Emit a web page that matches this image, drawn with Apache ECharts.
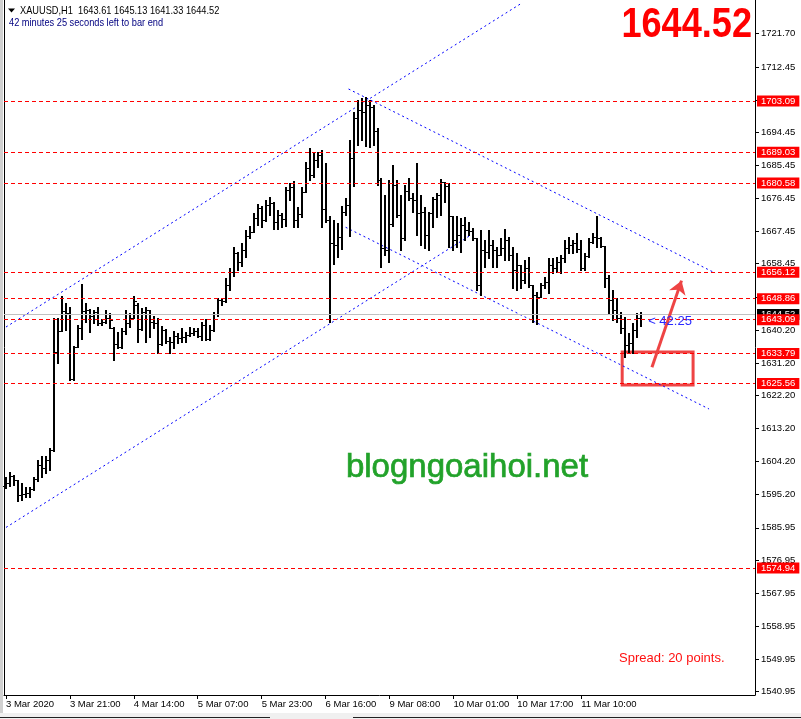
<!DOCTYPE html>
<html>
<head>
<meta charset="utf-8">
<script src="https://cdn.jsdelivr.net/npm/echarts@6/dist/echarts.min.js"></script>
<style>html,body{margin:0;padding:0;background:#fff;}#c{width:801px;height:719px;}</style>
</head>
<body>
<div id="c"></div>
<script>
// ---------- data ----------
const symbolName = 'XAUUSD,H1';
const xTickLabels = ['3 Mar 2020','3 Mar 21:00','4 Mar 14:00','5 Mar 07:00','5 Mar 23:00','6 Mar 16:00','9 Mar 08:00','10 Mar 01:00','10 Mar 17:00','11 Mar 10:00'];
const yTickValues = [1721.70,1712.45,1703.45,1694.45,1685.45,1676.45,1667.45,1658.45,1649.20,1640.20,1631.20,1622.20,1613.20,1604.20,1595.20,1585.95,1576.95,1567.95,1558.95,1549.95,1540.95];
const redLevels = [1703.09,1689.03,1680.58,1656.12,1648.86,1643.09,1633.79,1625.56,1574.94];
const currentPrice = 1644.52;

const opens = [1597.43,1598.26,1600.18,1599.08,1594.96,1595.24,1595.51,1596.61,1599.35,1603.20,
1602.37,1604.57,1607.31,1634.22,1639.98,1645.47,1644.92,1626.80,1635.59,1640.80,
1645.47,1645.74,1644.10,1645.20,1642.18,1642.45,1643.55,1640.80,1636.41,1635.59,
1639.98,1642.18,1643.55,1647.12,1640.53,1645.20,1645.74,1642.45,1642.18,1636.41,
1640.25,1637.24,1636.96,1638.61,1638.06,1638.33,1638.88,1639.43,1639.98,1638.61,
1641.63,1637.78,1640.25,1644.65,1648.49,1648.22,1652.61,1656.18,1661.39,1658.92,
1662.21,1666.06,1667.16,1671.00,1673.74,1670.45,1674.57,1675.12,1669.90,1671.82,
1670.72,1678.69,1679.52,1670.45,1672.10,1678.15,1684.73,1682.81,1686.93,1688.30,
1673.47,1670.45,1664.14,1663.59,1665.78,1672.65,1674.57,1687.48,1698.46,1700.65,
1700.11,1702.03,1701.48,1694.89,1681.44,1662.76,1662.21,1669.35,1680.07,1671.82,
1665.51,1678.42,1676.49,1675.94,1672.37,1672.65,1666.33,1672.37,1676.22,1677.32,
1680.89,1679.79,1671.55,1664.96,1666.33,1669.08,1667.70,1667.43,1665.51,1652.61,
1662.21,1661.67,1663.59,1662.21,1660.84,1662.76,1664.96,1660.84,1656.72,1658.10,
1653.98,1657.27,1652.61,1649.86,1649.31,1652.61,1653.43,1658.10,1657.27,1658.92,
1660.02,1662.76,1663.59,1664.14,1662.49,1657.27,1660.57,1664.41,1665.78,1665.51,
1663.31,1654.53,1648.49,1645.74,1643.55,1640.80,1636.14,1636.69,1640.25,1643.61];
const highs = [1599.90,1601.28,1600.45,1599.08,1598.26,1597.16,1597.16,1599.90,1604.57,1605.67,
1605.67,1607.86,1643.55,1643.55,1649.59,1647.67,1646.57,1635.86,1641.63,1652.88,
1647.67,1646.02,1645.74,1646.57,1643.27,1645.74,1644.92,1641.08,1639.71,1640.80,
1645.74,1644.92,1649.59,1647.67,1646.29,1646.57,1645.74,1644.10,1643.55,1641.35,
1640.53,1638.33,1639.98,1639.43,1640.80,1639.71,1641.08,1640.80,1640.80,1642.45,
1643.27,1641.63,1645.20,1649.04,1649.04,1654.53,1657.27,1663.04,1661.67,1664.14,
1667.70,1668.80,1672.37,1674.84,1674.29,1675.94,1676.76,1675.39,1673.19,1672.37,
1679.52,1680.62,1681.16,1674.02,1679.52,1686.38,1690.22,1688.85,1689.13,1689.67,
1686.11,1671.55,1670.45,1669.63,1674.29,1676.49,1692.42,1700.11,1703.40,1703.95,
1704.22,1703.40,1702.03,1695.71,1681.99,1677.32,1681.44,1685.56,1681.44,1677.32,
1680.07,1681.99,1677.87,1686.11,1677.32,1674.02,1672.65,1676.76,1677.87,1681.71,
1680.89,1680.62,1671.55,1671.55,1671.00,1671.27,1669.90,1668.25,1665.51,1667.70,
1664.96,1667.70,1664.96,1663.04,1665.51,1667.98,1665.78,1663.04,1661.39,1658.10,
1659.47,1660.29,1652.61,1650.69,1653.16,1654.80,1660.02,1660.02,1660.29,1660.84,
1664.96,1665.78,1664.96,1666.88,1664.96,1661.39,1665.51,1666.88,1671.55,1665.78,
1663.31,1655.35,1651.23,1649.04,1645.20,1643.82,1639.43,1642.18,1644.92,1645.13];
const lows = [1596.88,1597.43,1597.71,1593.31,1593.58,1594.41,1594.41,1596.33,1598.80,1599.90,
1601.00,1601.82,1607.04,1631.20,1639.98,1640.25,1626.53,1626.53,1635.59,1637.78,
1642.45,1639.71,1642.18,1641.63,1641.63,1642.18,1640.80,1632.02,1635.31,1635.31,
1639.16,1641.08,1643.55,1636.96,1640.25,1636.96,1638.33,1640.80,1633.94,1636.14,
1636.69,1633.94,1635.31,1636.69,1636.96,1636.96,1638.61,1638.88,1638.33,1637.51,
1637.51,1637.51,1639.98,1644.10,1647.12,1647.94,1651.23,1655.08,1656.72,1657.82,
1660.29,1665.51,1667.16,1669.08,1668.53,1670.18,1671.82,1667.98,1667.98,1668.53,
1668.80,1675.94,1668.53,1668.53,1671.27,1678.15,1681.44,1682.26,1685.01,1668.53,
1669.90,1642.45,1658.37,1660.29,1662.49,1671.82,1666.06,1679.79,1691.05,1692.42,
1690.77,1690.50,1691.05,1680.07,1657.55,1660.84,1658.92,1668.80,1671.27,1662.21,
1664.96,1675.94,1672.65,1666.33,1663.59,1662.76,1662.21,1668.53,1671.27,1671.82,
1675.39,1663.04,1662.21,1663.04,1661.67,1664.96,1666.33,1664.96,1651.23,1649.86,
1657.55,1660.02,1657.55,1657.55,1660.84,1659.47,1659.47,1651.78,1651.23,1651.78,
1653.16,1652.06,1642.45,1641.90,1649.31,1651.78,1650.41,1655.90,1656.18,1655.90,
1658.92,1661.39,1661.39,1661.67,1656.72,1656.72,1660.29,1664.14,1663.04,1663.04,
1652.06,1644.92,1643.00,1642.45,1639.43,1632.84,1634.22,1633.94,1638.33,1641.33];
const closes = [1598.26,1600.18,1599.08,1594.96,1595.24,1595.51,1596.61,1599.35,1603.20,1602.37,
1604.57,1607.31,1634.22,1639.98,1645.47,1644.92,1626.80,1635.59,1640.80,1645.47,
1645.74,1644.10,1645.20,1642.18,1642.45,1643.55,1643.00,1636.41,1635.59,1639.98,
1642.18,1643.55,1648.22,1640.53,1645.20,1645.74,1642.45,1642.18,1636.41,1640.25,
1637.24,1636.96,1638.61,1638.06,1638.33,1638.88,1639.43,1639.98,1638.61,1641.63,
1637.78,1640.25,1644.65,1648.49,1648.22,1652.61,1656.18,1661.39,1658.92,1662.21,
1666.06,1667.16,1671.00,1673.74,1670.45,1674.57,1675.12,1669.90,1671.82,1670.72,
1678.69,1679.52,1670.45,1672.10,1678.15,1684.73,1682.81,1686.93,1688.30,1673.47,
1670.45,1664.14,1663.59,1665.78,1672.65,1674.57,1687.48,1698.46,1700.65,1700.11,
1702.03,1701.48,1694.89,1681.44,1662.76,1662.21,1669.35,1680.07,1671.82,1665.51,
1678.42,1676.49,1675.94,1672.37,1672.65,1666.33,1672.37,1676.22,1677.32,1680.89,
1679.79,1671.55,1664.96,1666.33,1669.08,1667.70,1667.43,1665.51,1652.61,1662.21,
1661.67,1663.59,1662.21,1660.84,1662.76,1664.96,1660.84,1656.72,1658.10,1653.98,
1657.27,1652.61,1649.86,1649.31,1652.61,1653.43,1658.10,1657.27,1658.92,1660.02,
1662.76,1663.59,1664.14,1662.49,1657.27,1660.57,1664.41,1665.78,1665.51,1663.31,
1654.53,1648.49,1645.74,1643.55,1640.80,1636.14,1636.69,1640.25,1643.61,1644.52];

// trend channel lines: [bar index, price]
const channelUpTop = [[0, 1641.07], [129, 1729.91]];
const channelUpBottom = [[0, 1586.05], [116, 1666.05]];
const channelDownTop = [[85.75, 1706.41], [177.5, 1655.90]];
const channelDownBottom = [[83.9, 1669.07], [176, 1618.56]];
// annotation: box and arrow, [bar index, price]
const boxCorners = [[154.25, 1634.2], [172, 1625.15]];
const arrowPoints = [[161.7, 1630.0], [169.1, 1653.8]];
const countdownText = '< 42:25';
const countdownAt = [160.75, 1642.7];
const timerLine = '42 minutes 25 seconds left to bar end';
const spreadText = 'Spread: 20 points.';
const watermark = 'blogngoaihoi.net';

// ---------- build ----------
const N = 188; // visible slots incl. right shift area
const categories = [];
(function(){
  let day = 3, hour = 5;
  for (let i = 0; i < N; i++) {
    categories.push(day + ' Mar ' + String(hour).padStart(2,'0') + ':00');
    hour++;
    if (hour > 23) {
      day++;
      if (day === 7) day = 9;
      hour = (day === 9) ? 0 : 1;
    }
  }
})();
const ohlc = opens.map((o, i) => [i, o, highs[i], lows[i], closes[i]]);
const FONT = "'Liberation Sans', Arial, sans-serif";
const yMin = 1540.05, yMax = 1730.84;
const showTick = (idx) => idx % 16 === 0 && idx / 16 < xTickLabels.length;

const chart = echarts.init(document.getElementById('c'), null, {renderer: 'canvas'});

function trend(data) {
  return {
    type: 'line', xAxisIndex: 1, yAxisIndex: 0, data: data, showSymbol: false, silent: true,
    clip: true, animation: false, z: 3,
    lineStyle: {color: '#0000ff', width: 1, type: [2, 3]}
  };
}

const option = {
  animation: false,
  backgroundColor: '#ffffff',
  grid: {left: 4, right: 46, top: 0, bottom: 24, containLabel: false},
  xAxis: [{
    type: 'category', data: categories, boundaryGap: true,
    axisLine: {show: true, onZero: false, lineStyle: {color: '#000', width: 1}},
    axisTick: {show: true, alignWithLabel: true, length: 4, interval: showTick, lineStyle: {color: '#000'}},
    axisLabel: {show: true, interval: showTick, align: 'left', margin: 4,
      formatter: (v, idx) => xTickLabels[idx / 16], color: '#000', fontSize: 9.5, fontFamily: FONT},
    splitLine: {show: false}
  }, {
    type: 'value', min: -0.5, max: N - 0.5, show: false,
    axisLine: {show: false, onZero: false}, axisTick: {show: false}, axisLabel: {show: false}, splitLine: {show: false}
  }],
  yAxis: [{
    type: 'value', position: 'right', min: yMin, max: yMax, scale: true,
    axisLine: {show: true, onZero: false, lineStyle: {color: '#000', width: 1}},
    axisTick: {show: true, length: 4, customValues: yTickValues, lineStyle: {color: '#000'}},
    axisLabel: {show: true, customValues: yTickValues, formatter: v => v.toFixed(2),
      color: '#000', fontSize: 9.5, fontFamily: FONT, margin: 6},
    splitLine: {show: false}
  }],
  series: [
    {
      type: 'line', xAxisIndex: 1, yAxisIndex: 0, data: [], silent: true, z: 2,
      markLine: {
        silent: true, symbol: ['none', 'none'], animation: false,
        lineStyle: {color: '#c0c0c0', type: 'solid', width: 1},
        label: {show: true, position: 'end', formatter: p => Number(p.value).toFixed(2),
          color: '#fff', backgroundColor: '#000', padding: [1, 4, 0, 4], distance: 2,
          fontSize: 9.5, fontFamily: FONT, lineHeight: 10},
        data: [{yAxis: currentPrice}]
      }
    },
    {
      type: 'line', xAxisIndex: 1, yAxisIndex: 0, data: [], silent: true, z: 2,
      markLine: {
        silent: true, symbol: ['none', 'none'], animation: false,
        lineStyle: {color: '#ff0000', type: [4, 3], width: 1},
        label: {show: true, position: 'end', formatter: p => Number(p.value).toFixed(2),
          color: '#fff', backgroundColor: '#ff0000', padding: [1, 4, 0, 4], distance: 2,
          fontSize: 9.5, fontFamily: FONT, lineHeight: 10},
        data: redLevels.map(v => ({yAxis: v}))
      }
    },
    trend(channelUpTop),
    trend(channelUpBottom),
    trend(channelDownTop),
    trend(channelDownBottom),
    {
      type: 'custom', xAxisIndex: 0, yAxisIndex: 0, data: ohlc, z: 4, silent: true,
      encode: {x: 0, y: [1, 2, 3, 4]},
      renderItem: function (params, api) {
        const i = api.value(0);
        const pH = api.coord([i, api.value(2)]);
        const yO = Math.round(api.coord([i, api.value(1)])[1]);
        const yL = Math.round(api.coord([i, api.value(3)])[1]);
        const yC = Math.round(api.coord([i, api.value(4)])[1]);
        const xr = Math.round(pH[0]);
        const yh = Math.round(pH[1]);
        return {
          type: 'group',
          children: [
            {type: 'rect', shape: {x: xr - 1, y: yh, width: 2, height: Math.max(1, yL - yh + 1)}, style: {fill: '#000'}},
            {type: 'rect', shape: {x: xr - 3, y: yO, width: 2, height: 1}, style: {fill: '#000'}},
            {type: 'rect', shape: {x: xr + 1, y: yC, width: 2, height: 1}, style: {fill: '#000'}}
          ]
        };
      }
    },
    {
      type: 'line', xAxisIndex: 1, yAxisIndex: 0, data: [], silent: true, z: 6,
      markArea: {
        silent: true,
        itemStyle: {color: 'rgba(0,0,0,0)', borderColor: '#ee4444', borderWidth: 3},
        data: [[{coord: boxCorners[0]}, {coord: boxCorners[1]}]]
      },
      markLine: {
        silent: true, symbol: ['none', 'arrow'], symbolSize: 13, animation: false,
        lineStyle: {color: '#ee4444', type: 'solid', width: 3},
        label: {show: false},
        data: [[{coord: arrowPoints[0]}, {coord: arrowPoints[1]}]]
      }
    }
  ]
};
chart.setOption(option);

const last = opens.length - 1;
const cd = chart.convertToPixel({xAxisIndex: 1, yAxisIndex: 0}, countdownAt);
chart.setOption({
  graphic: [
    {type: 'rect', shape: {x: 0, y: 0, width: 3, height: 714}, style: {fill: '#d0d0d0'}, silent: true},
    {type: 'line', shape: {x1: 4.5, y1: 0, x2: 4.5, y2: 695}, style: {stroke: '#000', lineWidth: 1}, silent: true},
    {type: 'rect', shape: {x: 0, y: 713, width: 801, height: 6}, style: {fill: '#f0f0f0'}, silent: true},
    {type: 'line', shape: {x1: 0, y1: 717.5, x2: 270, y2: 717.5}, style: {stroke: '#222', lineWidth: 1}, silent: true},
    {type: 'line', shape: {x1: 353, y1: 717.5, x2: 801, y2: 717.5}, style: {stroke: '#222', lineWidth: 1}, silent: true},
    {type: 'polygon', shape: {points: [[8, 8.5], [15, 8.5], [11.5, 12.5]]}, style: {fill: '#000'}, silent: true},
    {type: 'text', x: 20, y: 11, scaleX: 0.88, silent: true, style: {
      text: symbolName + '  ' + opens[last].toFixed(2) + ' ' + highs[last].toFixed(2) + ' ' + lows[last].toFixed(2) + ' ' + closes[last].toFixed(2),
      font: '10.5px ' + FONT, fill: '#000', verticalAlign: 'middle', align: 'left'}},
    {type: 'text', x: 9, y: 23.5, scaleX: 0.88, silent: true, style: {text: timerLine, font: '10.5px ' + FONT, fill: '#000080', verticalAlign: 'middle', align: 'left'}},
    {type: 'text', x: 752, y: 25, scaleX: 0.86, silent: true, style: {
      text: closes[last].toFixed(2), font: 'bold 42px ' + FONT, fill: '#ff0000', verticalAlign: 'middle', align: 'right'}},
    {type: 'text', x: 619, y: 658, silent: true, style: {text: spreadText, font: '13px ' + FONT, fill: '#ff1010', verticalAlign: 'middle', align: 'left'}},
    {type: 'text', x: 467, y: 468, silent: true, style: {text: watermark, font: '33px ' + FONT, fill: '#22a22a', stroke: '#22a22a', lineWidth: 0.7, verticalAlign: 'middle', align: 'center'}},
    {type: 'text', x: cd[0], y: cd[1], silent: true, z: 10, style: {text: countdownText, font: '13px ' + FONT, fill: '#2a2aff', verticalAlign: 'middle', align: 'left'}}
  ]
});
</script>
</body>
</html>
